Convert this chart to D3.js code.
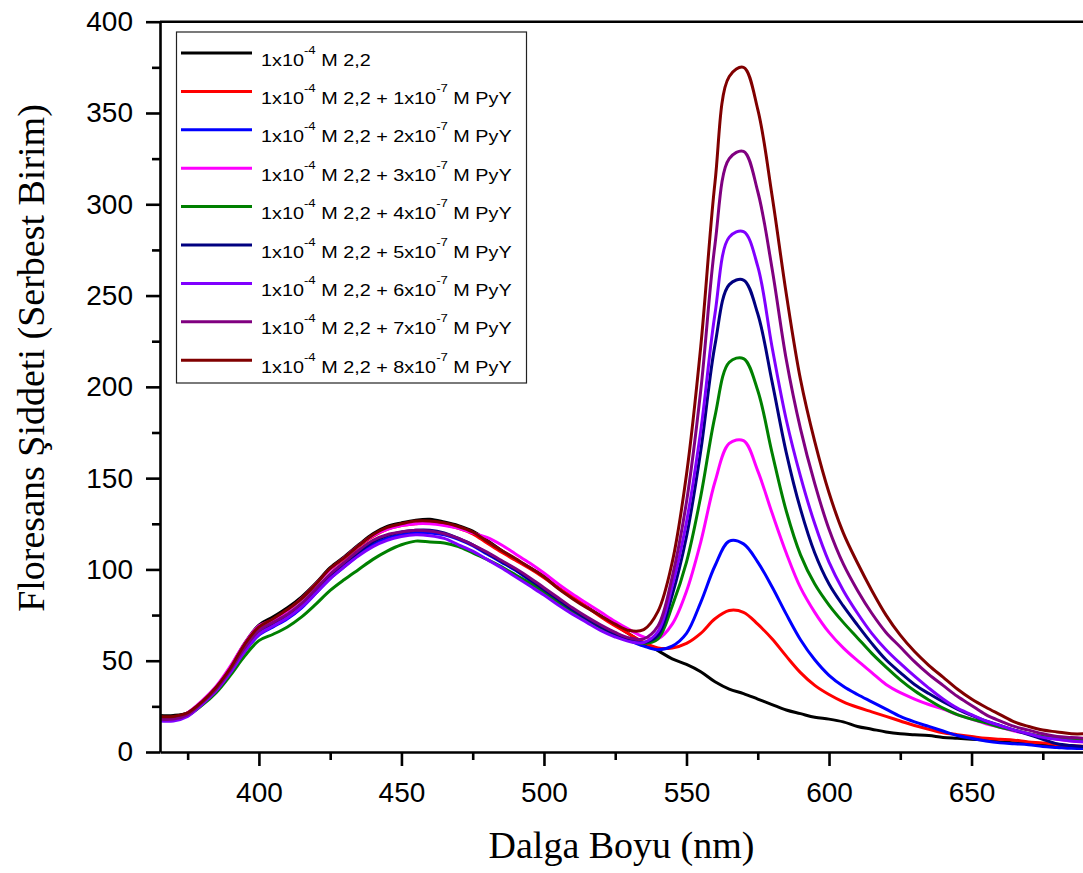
<!DOCTYPE html>
<html>
<head>
<meta charset="utf-8">
<script src="https://cdn.jsdelivr.net/npm/d3@7"></script>
<style>
  html, body { margin: 0; padding: 0; background: #fff; }
  svg { display: block; }
</style>
</head>
<body>
<div id="chart"></div>
<script>
// wavelength grid (nm)
var wavelengths = [
  365,370,375,380,385,390,395,400,405,410,
  415,420,425,430,435,440,445,450,455,460,
  465,470,475,480,485,490,495,500,505,510,
  515,520,525,530,535,540,545,550,555,560,
  565,570,575,580,585,590,595,600,605,610,
  615,620,625,630,635,640,645,650,655,660,
  665,670,675,680,685,690
];

// intensities, one array per sample
var s0 = [ // 1x10-4 M 2,2
  20,20,21.5,27.5,35.5,46.5,59.5,69.5,74,79,
  85,92.5,101,107,113.5,119.5,123.5,125.5,127,127.5,
  126,124,121,116,110.5,105.5,101,96,90,84.5,
  79.5,74.5,69.5,64.5,59.5,55.5,51,48,44,38.5,
  34.5,32,29,26,23,21,19,18,16.5,14,
  12.5,11,10,9.5,9,8,7.5,7,6.5,5.5,
  5,4.5,4,3.5,3,3];
var s1 = [ // + 1x10-7 M PyY
  18.5,18.5,21,27,35,46,58.5,68,72.5,77.5,
  84,92,100,106,112.5,118,122,124,125,125.5,
  124.5,122.5,119.5,114.5,109.5,105,100.5,95.5,90,85,
  79.5,74,69,64.5,60,57,57,59.5,65,73,
  77.5,76.5,70,62,52.5,43.5,36.5,31.5,27.5,24.5,
  22,19.5,17,14.5,12.5,10.5,9.5,8.5,7.5,7,
  6.5,5.5,5,4,3.5,3];
var s2 = [ // + 2x10-7
  17.5,17.5,20,26,33.5,43.5,55,64,68.5,73,
  79,87,95,101.5,108,113.5,117,119,120,120,
  119,116.5,113,108.5,104,99.5,94,89,83.5,78,
  73,68.5,64.5,61,58,56,58,65,82,102,
  115.5,114,104,90.5,75.5,61.5,50.5,42,36,31.5,
  27.5,23.5,19.5,16.5,14,11.5,9,7.5,6,5,
  4.5,4,3,2.5,2,2];
var s3 = [ // + 3x10-7
  18,18,21.5,28,36,47,59.5,69,72.5,77.5,
  84,92,100,106.5,113,118.5,122,124,125,125,
  124,122.5,120,117.5,113.5,108.5,103.5,98,92,86.5,
  81.5,76.5,71.5,67,63,62,70,88,115,148,
  169,170.5,154,131,109,90,76.5,65.5,57,50,
  43.5,37,32.5,29,26,23.5,20.5,18,15.5,13.5,
  11.5,10,8.5,7,6,5.5];
var s4 = [ // + 4x10-7
  18,18,20,25.5,32.5,42,52.5,61,64.5,68.5,
  74,81,88.5,94.5,100,105.5,110,113.5,115.5,115,
  114.5,112.5,109,105.5,101.5,97,92.5,87.5,82,77,
  72.5,68,64,61,59.5,62,80,104,140,184,
  213.5,215.5,198,164,132,108,92,80.5,71,62.5,
  54,46.5,39.5,33.5,28.5,24,20.5,18,16,13.5,
  12,10,8.5,7.5,7,6.5];
var s5 = [ // + 5x10-7
  18,18,20.5,26.5,34,44,56,65.5,70,74.5,
  80.5,88.5,96.5,103,109.5,115,118.5,120.5,121.5,121.5,
  120,117,113.5,109,104.5,100,94.5,89,83.5,78,
  73,68.5,64.5,61.5,60,64,86,118,165,223,
  256,258.5,240,203,164,133,109,92,80,69.5,
  59.5,50.5,43.5,37,32,27.5,23.5,20,17,14.5,
  12,9.5,7,4.5,3.5,3];
var s6 = [ // + 6x10-7
  17,17,19.5,26,33.5,43.5,55,64.5,69,73.5,
  79.5,87,95,101.5,107.5,112.5,116,118,119,118.5,
  117,113.5,110,105.5,101,96,91,86,80.5,75.5,
  71,66.5,63,60.5,60,66,91,126,176,240,
  282,285,266,222,182,151,125,104,88.5,76,
  65,56,48.5,41.5,35,29,24,20.5,17,14.5,
  12,10,8,7,6,5.5];
var s7 = [ // + 7x10-7
  18,18,20.5,27,34.5,45,57,66.5,71,75.5,
  81.5,89.5,97.5,104,110.5,116,119,120.5,121.5,121,
  119.5,117,113.5,109.5,105,100.5,95.5,90,84.5,79,
  74,69.5,65.5,62.5,62,69,96,137,198,278,
  325,329,307,265,215,177,147,122,103,88.5,
  76,65.5,57.5,49.5,42.5,36.5,30.5,25.5,20.5,17,
  14,12,10,8.5,8,7.5];
var s8 = [ // + 8x10-7
  19.5,19.5,21.5,27.5,35.5,46,59,68.5,73,78,
  84,92,100.5,106.5,113,119,123,125,126.5,126.5,
  125.5,123.5,120.5,115.5,110.5,106,101,96,89.5,84,
  79,74.5,70,66.5,67,77,104,152,222,312,
  370,375,352,305,251,204,170,142,120,103.5,
  88.5,75,64,55,47.5,41,34.5,29,24.5,20.5,
  16.5,14,12,11,10,10];

var seriesValues = [s0, s1, s2, s3, s4, s5, s6, s7, s8];
var seriesColors = ["#000000", "#ff0000", "#0000ff", "#ff00ff", "#008000",
                    "#000080", "#8000ff", "#800080", "#800000"];
// PyY concentration multiplier (x10-7 M); null = no PyY
var pyyAmounts = [null, "1", "2", "3", "4", "5", "6", "7", "8"];

var yTicks = [0, 50, 100, 150, 200, 250, 300, 350, 400];
var yMinor = [25, 75, 125, 175, 225, 275, 325, 375];
var xTicks = [400, 450, 500, 550, 600, 650];
var xMinor = [375, 425, 475, 525, 575, 625, 675];

var W = 1083, H = 873;
// plot box (note: "top" is taken by window.top, so use other names)
var plotL = 160, plotR = 1083, plotT = 21.7, plotB = 752;

var svg = d3.select("#chart").append("svg")
    .attr("width", W)
    .attr("height", H);

svg.append("rect").attr("width", W).attr("height", H).attr("fill", "#fff");

var x = d3.scaleLinear().domain([365.3, 689.1]).range([plotL, plotR]);
var y = d3.scaleLinear().domain([0, 400]).range([plotB, plotT]);

svg.append("clipPath").attr("id", "plotclip")
  .append("rect")
    .attr("x", plotL).attr("y", plotT)
    .attr("width", plotR - plotL).attr("height", plotB - plotT);

// curves
var line = d3.line()
    .x(function(d) { return x(d[0]); })
    .y(function(d) { return y(d[1]); })
    .curve(d3.curveCatmullRom.alpha(0.5));

var curves = svg.append("g").attr("clip-path", "url(#plotclip)");
seriesValues.forEach(function(vals, i) {
  var pts = wavelengths.map(function(w, j) { return [w, vals[j]]; });
  curves.append("path")
      .datum(pts)
      .attr("d", line)
      .attr("fill", "none")
      .attr("stroke", seriesColors[i])
      .attr("stroke-width", 3)
      .attr("stroke-linejoin", "round");
});

// axes
var tickFont = "'Liberation Sans', Arial, sans-serif";

function styleAxis(g) {
  g.selectAll("path.domain").attr("stroke", "#000").attr("stroke-width", 2.6);
  g.selectAll(".tick line").attr("stroke", "#000").attr("stroke-width", 2.6);
  g.selectAll(".tick text")
      .attr("fill", "#000")
      .style("font-family", tickFont)
      .style("font-size", "28px");
}

var gy = svg.append("g").attr("transform", "translate(" + plotL + ",0)")
    .call(d3.axisLeft(y).tickValues(yTicks).tickSize(14).tickSizeOuter(0).tickPadding(13));
styleAxis(gy);
var gyMinor = svg.append("g").attr("transform", "translate(" + plotL + ",0)")
    .call(d3.axisLeft(y).tickValues(yMinor).tickSize(8).tickFormat(""));
gyMinor.select("path.domain").remove();
styleAxis(gyMinor);

var gx = svg.append("g").attr("transform", "translate(0," + plotB + ")")
    .call(d3.axisBottom(x).tickValues(xTicks).tickSize(14).tickSizeOuter(0).tickPadding(16));
styleAxis(gx);
var gxMinor = svg.append("g").attr("transform", "translate(0," + plotB + ")")
    .call(d3.axisBottom(x).tickValues(xMinor).tickSize(8).tickFormat(""));
gxMinor.select("path.domain").remove();
styleAxis(gxMinor);

// top frame line
svg.append("line")
    .attr("x1", plotL).attr("x2", plotR)
    .attr("y1", plotT).attr("y2", plotT)
    .attr("stroke", "#000").attr("stroke-width", 2.6);

// axis titles
var titleFont = "'Liberation Serif', 'Times New Roman', serif";
svg.append("text")
    .attr("x", (plotL + plotR) / 2)
    .attr("y", 858)
    .attr("text-anchor", "middle")
    .style("font-family", titleFont)
    .style("font-size", "38px")
    .text("Dalga Boyu (nm)");

svg.append("text")
    .attr("transform", "translate(44,358) rotate(-90)")
    .attr("text-anchor", "middle")
    .style("font-family", titleFont)
    .style("font-size", "38px")
    .text("Floresans Şiddeti (Serbest Birim)");

// legend
var legend = svg.append("g");
legend.append("rect")
    .attr("x", 176.5).attr("y", 32)
    .attr("width", 350).attr("height", 351)
    .attr("fill", "#fff")
    .attr("stroke", "#222").attr("stroke-width", 1.2);

var rowY0 = 53, rowStep = 38.4;
seriesColors.forEach(function(c, i) {
  var ry = rowY0 + i * rowStep;
  legend.append("line")
      .attr("x1", 181).attr("x2", 252)
      .attr("y1", ry).attr("y2", ry)
      .attr("stroke", c).attr("stroke-width", 3);

  var t = legend.append("text")
      .attr("transform", "translate(261," + (ry + 12.5) + ") scale(1.2,1)")
      .style("font-family", tickFont)
      .style("font-size", "16.5px")
      .attr("fill", "#000");
  t.append("tspan").text("1x10");
  t.append("tspan").attr("dy", -12).style("font-size", "11px").text("-4");
  if (pyyAmounts[i] === null) {
    t.append("tspan").attr("dy", 12).text(" M 2,2");
  } else {
    t.append("tspan").attr("dy", 12).text(" M 2,2 + " + pyyAmounts[i] + "x10");
    t.append("tspan").attr("dy", -12).style("font-size", "11px").text("-7");
    t.append("tspan").attr("dy", 12).text(" M PyY");
  }
});
</script>
</body>
</html>
